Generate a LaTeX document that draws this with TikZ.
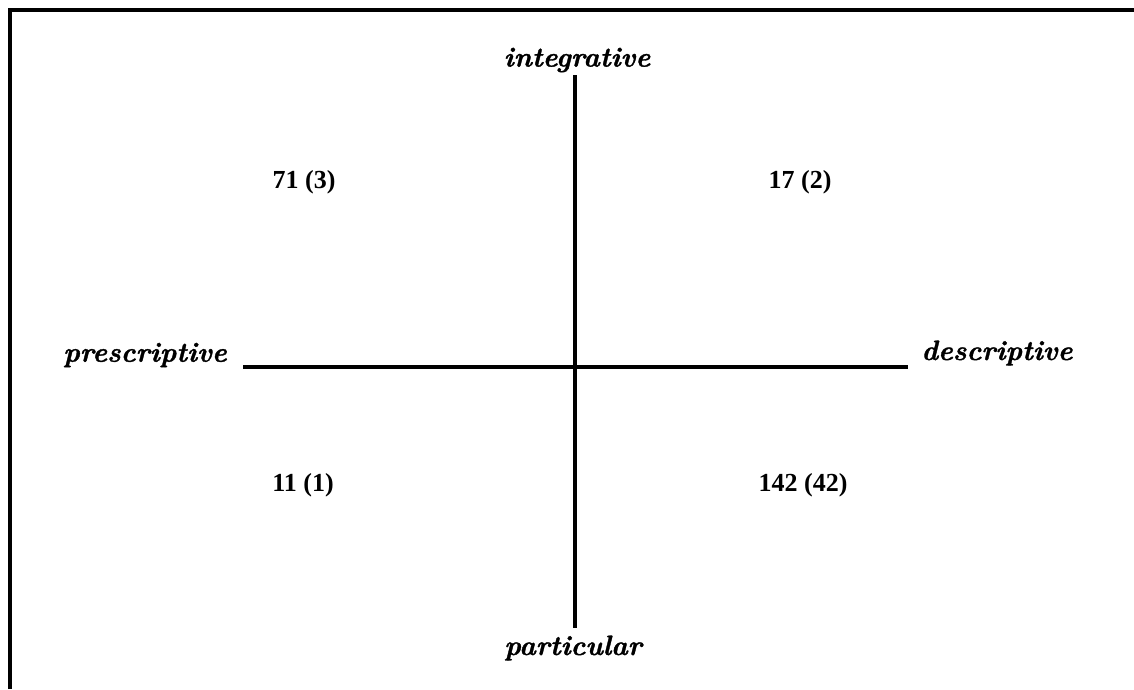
\documentclass[tikz,border=0pt]{standalone}
\usepackage{fontspec}
\newfontfamily\numfont{Liberation Serif}
\newfontfamily\labfont{lmroman10-bolditalic.otf}[FakeBold=1.2]
\begin{document}
\begin{tikzpicture}[x=1pt,y=-1pt,
  axis/.style={line width=3.5pt},
  frameline/.style={line width=3.5pt},
  pole/.style={font=\labfont\fontsize{28}{30}\selectfont, inner sep=0pt},
  count/.style={font=\numfont\fontsize{26}{28}\selectfont\bfseries, inner sep=0pt}]
\useasboundingbox (0,0) rectangle (1134,689);
\draw[frameline] (10,689) -- (10,10) -- (1134,10);
\coordinate (top) at (575,75);
\coordinate (bot) at (575,628);
\coordinate (lft) at (243,367);
\coordinate (rgt) at (908,367);
\draw[axis] (top) -- (bot);
\draw[axis] (lft) -- (rgt);
\node[pole] (integ) at (577,60) {integrative};
\node[pole] (partic) at (573,648) {particular};
\node[pole] (presc) at (145,355) {prescriptive};
\node[pole] (descr) at (997,353) {descriptive};
\node[count] (q1) at (304,182) {71 (3)};
\node[count] (q2) at (800,182) {17 (2)};
\node[count] (q3) at (303,485) {11 (1)};
\node[count] (q4) at (803,485) {142 (42)};
\end{tikzpicture}
\end{document}
